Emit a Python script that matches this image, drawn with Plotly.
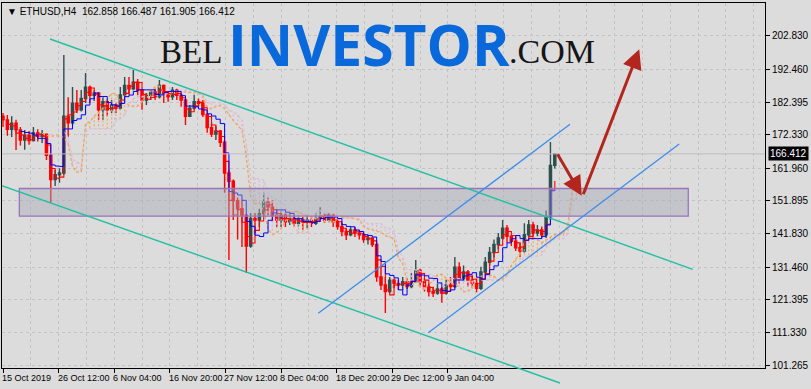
import plotly.graph_objects as go
import pandas as pd

# ---------------- data ----------------
title_text = "ETHUSD,H4  162.858 166.487 161.905 166.412"
bar_step = 5            # each drawn candle stands for 5 H4 bars
first_open = 178.0

closes = [176.9, 174.0, 175.9, 173.8, 170.7, 172.2, 170.5, 172.9, 171.8, 172.5,
          166.0, 158.5, 160.0, 160.5, 178.0, 176.0, 182.0, 180.0, 183.5, 187.0,
          184.5, 185.2, 180.0, 182.5, 180.0, 181.5, 180.5, 184.6, 187.5, 186.5,
          188.5, 186.0, 183.0, 184.5, 185.5, 184.0, 187.5, 185.0, 184.0, 186.0,
          184.5, 183.0, 178.0, 180.5, 182.5, 182.0, 178.5, 174.5, 172.5, 173.5,
          170.0, 160.5, 158.0, 152.0, 149.5, 147.5, 138.0, 146.5, 146.0, 148.0,
          151.5, 150.0, 147.5, 146.0, 147.5, 145.5, 146.5, 145.0, 146.2, 145.5,
          146.0, 145.0, 146.5, 147.0, 146.0, 147.5, 145.5, 144.0, 142.5, 141.5,
          143.0, 142.0, 141.5, 140.0, 140.5, 138.5, 128.5, 126.0, 124.0, 127.5,
          126.5, 126.0, 127.0, 125.5, 127.0, 130.5, 127.0, 125.5, 124.0, 123.5,
          124.8, 123.5, 126.0, 125.5, 131.5, 128.0, 130.0, 127.5, 126.5, 125.0,
          130.0, 133.0, 136.0, 138.5, 140.5, 143.5, 141.0, 139.5, 137.5, 136.5,
          141.5, 144.5, 142.0, 143.0, 141.5, 147.0, 162.858, 166.412]

highs = [179.0, 178.4, 178.0, 176.9, 174.7, 173.8, 173.5, 174.7, 174.0, 173.8,
         172.5, 166.5, 161.5, 162.0, 196.9, 183.9, 187.0, 186.1, 186.1, 191.3,
         187.5, 186.1, 185.5, 183.9, 183.0, 183.0, 182.1, 187.0, 190.1, 190.1,
         192.3, 189.5, 186.5, 185.2, 186.1, 186.5, 189.2, 187.8, 185.5, 187.0,
         186.5, 185.2, 183.5, 181.5, 184.6, 183.5, 183.0, 179.0, 175.9, 175.0,
         173.8, 170.5, 161.5, 158.5, 153.0, 152.2, 148.0, 148.2, 148.2, 149.5,
         154.4, 153.0, 152.2, 148.5, 149.0, 148.2, 148.2, 147.5, 147.5, 147.0,
         147.5, 147.0, 148.2, 150.0, 148.2, 148.2, 148.0, 146.0, 145.1, 143.5,
         144.0, 143.9, 143.0, 142.0, 141.5, 140.5, 139.0, 131.6, 128.5, 128.5,
         128.0, 127.6, 128.5, 128.0, 129.7, 133.7, 131.0, 128.0, 126.5, 125.5,
         126.5, 125.4, 127.6, 128.5, 134.6, 133.0, 132.0, 130.6, 129.0, 128.0,
         131.6, 134.6, 137.7, 140.0, 142.0, 146.0, 144.5, 141.5, 140.8, 139.0,
         145.0, 146.0, 145.5, 144.5, 144.0, 149.0, 170.1, 166.487]

lows = [174.7, 172.0, 171.6, 167.6, 169.0, 167.7, 169.2, 170.2, 170.2, 169.8,
        164.5, 151.3, 156.5, 157.5, 160.0, 171.6, 175.5, 179.0, 179.5, 182.1,
        182.1, 182.7, 176.9, 176.9, 178.0, 179.0, 179.0, 180.0, 184.5, 184.6,
        186.0, 184.5, 180.0, 181.5, 183.0, 183.0, 183.5, 182.1, 182.5, 183.0,
        183.0, 180.9, 175.3, 177.8, 180.0, 180.9, 177.8, 172.9, 171.6, 170.7,
        168.5, 154.4, 133.7, 146.0, 140.0, 137.7, 129.7, 137.5, 142.0, 143.9,
        147.0, 147.5, 145.5, 143.9, 143.9, 143.9, 144.5, 143.9, 144.0, 143.0,
        143.5, 143.9, 144.5, 145.5, 145.1, 145.5, 143.9, 143.0, 141.0, 139.9,
        141.0, 140.8, 140.0, 139.0, 138.5, 137.7, 127.0, 124.5, 117.4, 123.5,
        125.0, 124.5, 124.5, 124.8, 125.0, 127.0, 125.4, 124.0, 122.5, 122.3,
        123.0, 120.5, 123.0, 124.0, 125.0, 126.5, 127.0, 125.5, 125.0, 123.8,
        124.5, 129.0, 132.0, 134.5, 137.0, 140.0, 139.0, 138.0, 136.5, 134.6,
        136.0, 140.5, 140.0, 141.0, 140.5, 140.5, 146.0, 161.905]

x_tick_bars = [0, 64, 128, 192, 256, 320, 384, 448, 512]
x_tick_labels = ["15 Oct 2019", "26 Oct 12:00", "6 Nov 04:00", "16 Nov 20:00",
                 "27 Nov 12:00", "8 Dec 04:00", "18 Dec 20:00", "29 Dec 12:00",
                 "9 Jan 04:00"]
y_tick_vals = [101.265, 111.330, 121.395, 131.460, 141.830, 151.895,
               161.960, 172.330, 182.395, 192.460, 202.830]
y_tick_labels = ["101.265", "111.330", "121.395", "131.460", "141.830", "151.895",
                 "161.960", "172.330", "182.395", "192.460", "202.830"]
bid_price = 166.412
bid_label = "166.412"

# drawn objects (bar index, price)
teal_upper_bars = [54.1, 793.7]
teal_upper_prices = [201.81, 130.85]
teal_lower_bars = [-3.5, 641.0]
teal_lower_prices = [156.82, 95.81]
blue_upper_bars = [362.8, 652.5]
blue_upper_prices = [117.29, 175.53]
blue_lower_bars = [489.4, 778.2]
blue_lower_prices = [111.31, 169.46]
zone_bars = [18.8, 788.6]
zone_prices = [147.21, 155.75]
arrow1_tail = (637.2, 166.78)
arrow1_tip = (665.9, 153.53)
arrow2_tail = (667.1, 153.53)
arrow2_tip = (732.2, 198.64)

x_range = [-1.15, 876.9]
y_range = [100.43, 212.91]

# ---------------- derived ----------------
n = len(closes)
bars = [i * bar_step for i in range(n)]
opens = [first_open] + closes[:-1]
highs = [max(h, o, c) for h, o, c in zip(highs, opens, closes)]
lows = [min(l, o, c) for l, o, c in zip(lows, opens, closes)]

df = pd.DataFrame({"bar": bars, "o": opens, "h": highs, "l": lows, "c": closes})
tenkan = (df.h.rolling(2).max() + df.l.rolling(2).min()) / 2
kijun = (df.h.rolling(5).max() + df.l.rolling(5).min()) / 2
span_a = (tenkan + kijun) / 2
span_b = (df.h.rolling(10).max() + df.l.rolling(10).min()) / 2
shift = 5
span_bars = [b + shift * bar_step for b in bars]

# hatch segments of the cloud (as the terminal draws it)
up_x, up_y, dn_x, dn_y = [], [], [], []
for b, a, s in zip(span_bars, span_a, span_b):
    if pd.isna(a) or pd.isna(s):
        continue
    if a >= s:
        up_x += [b, b, None]
        up_y += [a, s, None]
    else:
        dn_x += [b, b, None]
        dn_y += [a, s, None]

FONT = "Liberation Sans, Arial, sans-serif"
BG = "#DCDCDC"
GRID = "#C3C3C3"


def paper_y(price):
    return (price - y_range[0]) / (y_range[1] - y_range[0])


fig = go.Figure()

# Ichimoku cloud
fig.add_trace(go.Scatter(x=up_x, y=up_y, mode="lines",
                         line=dict(color="rgba(244,164,96,0.9)", width=1.2, dash="2px,2px"),
                         hoverinfo="skip", showlegend=False))
fig.add_trace(go.Scatter(x=dn_x, y=dn_y, mode="lines",
                         line=dict(color="rgba(214,186,214,1)", width=1.2, dash="2px,2px"),
                         hoverinfo="skip", showlegend=False))
fig.add_trace(go.Scatter(x=span_bars, y=span_b, mode="lines",
                         line=dict(color="#D8BFD8", width=1.3, dash="3px,2px"),
                         hoverinfo="skip", showlegend=False))
fig.add_trace(go.Scatter(x=span_bars, y=span_a, mode="lines",
                         line=dict(color="#F4A460", width=1.3, dash="3px,2px"),
                         hoverinfo="skip", showlegend=False))

fig.add_trace(go.Candlestick(
    x=bars, open=opens, high=highs, low=lows, close=closes,
    increasing=dict(line=dict(color="#2F4F4F", width=1.4), fillcolor="#2F4F4F"),
    decreasing=dict(line=dict(color="#FF0000", width=1.4), fillcolor="#FF0000"),
    whiskerwidth=0, showlegend=False, hoverinfo="skip"))

fig.add_trace(go.Scatter(x=bars, y=tenkan, mode="lines", line_shape="hv",
                         line=dict(color="#FF0000", width=1.1),
                         hoverinfo="skip", showlegend=False))
fig.add_trace(go.Scatter(x=bars, y=kijun, mode="lines", line_shape="hv",
                         line=dict(color="#0000FF", width=1.0),
                         hoverinfo="skip", showlegend=False))

shapes = []
# bid line
shapes.append(dict(type="line", xref="paper", yref="y", x0=0, x1=1,
                   y0=bid_price, y1=bid_price, line=dict(color="#BEBEBE", width=1)))
# zone
shapes.append(dict(type="rect", xref="x", yref="y",
                   x0=zone_bars[0], x1=zone_bars[1], y0=zone_prices[0], y1=zone_prices[1],
                   fillcolor="rgba(165,168,180,0.45)",
                   line=dict(color="#9A74B8", width=1.3), layer="above"))
# channel lines
shapes.append(dict(type="line", xref="x", yref="y",
                   x0=teal_upper_bars[0], x1=teal_upper_bars[1],
                   y0=teal_upper_prices[0], y1=teal_upper_prices[1],
                   line=dict(color="#22BFA3", width=1.4)))
shapes.append(dict(type="line", xref="x", yref="paper",
                   x0=teal_lower_bars[0], x1=teal_lower_bars[1],
                   y0=paper_y(teal_lower_prices[0]), y1=paper_y(teal_lower_prices[1]),
                   line=dict(color="#22BFA3", width=1.4)))
shapes.append(dict(type="line", xref="x", yref="y",
                   x0=blue_upper_bars[0], x1=blue_upper_bars[1],
                   y0=blue_upper_prices[0], y1=blue_upper_prices[1],
                   line=dict(color="#3C8CEE", width=1.3)))
shapes.append(dict(type="line", xref="x", yref="y",
                   x0=blue_lower_bars[0], x1=blue_lower_bars[1],
                   y0=blue_lower_prices[0], y1=blue_lower_prices[1],
                   line=dict(color="#3C8CEE", width=1.3)))

annotations = []
for tip, tail in [(arrow1_tip, arrow1_tail), (arrow2_tip, arrow2_tail)]:
    annotations.append(dict(x=tip[0], y=tip[1], ax=tail[0], ay=tail[1],
                            xref="x", yref="y", axref="x", ayref="y",
                            text="", showarrow=True, arrowhead=2, arrowsize=1.3,
                            arrowwidth=3, arrowcolor="#B3261E", standoff=0))

# x tick labels (left aligned at the tick, like the terminal)
for b, lab in zip(x_tick_bars, x_tick_labels):
    annotations.append(dict(x=b, y=-0.028, xref="x", yref="paper", text=lab,
                            showarrow=False, xanchor="left", yanchor="middle",
                            xshift=-2, borderpad=0,
                            font=dict(family=FONT, size=9, color="#000000")))

# bid label on the price scale
annotations.append(dict(x=1, y=bid_price, xref="paper", yref="y", text=bid_label,
                        showarrow=False, xanchor="left", yanchor="middle", xshift=3,
                        bgcolor="#000000", borderpad=1,
                        font=dict(family=FONT, size=10, color="#FFFFFF")))

# header
annotations.append(dict(x=0.004, y=0.997, xref="paper", yref="paper",
                        text="\u25BC " + title_text, showarrow=False,
                        xanchor="left", yanchor="top",
                        font=dict(family=FONT, size=10, color="#000000")))

# watermark
annotations.append(dict(x=0.2905, y=0.866, xref="paper", yref="paper", text="BEL",
                        showarrow=False, xanchor="right", yanchor="middle",
                        font=dict(family="Liberation Serif, serif", size=33, color="#151515")))
annotations.append(dict(x=0.4805, y=0.888, xref="paper", yref="paper", text="<b>INVESTOR</b>",
                        showarrow=False, xanchor="center", yanchor="middle",
                        font=dict(family="Open Sans, sans-serif", size=57, color="#0A69DA")))
annotations.append(dict(x=0.662, y=0.866, xref="paper", yref="paper", text=".COM",
                        showarrow=False, xanchor="left", yanchor="middle",
                        font=dict(family="Liberation Serif, serif", size=34, color="#151515")))

fig.update_layout(
    width=811, height=389,
    margin=dict(l=2, r=46, t=3, b=21),
    paper_bgcolor=BG, plot_bgcolor=BG,
    shapes=shapes, annotations=annotations,
    showlegend=False,
    xaxis=dict(range=x_range, rangeslider=dict(visible=False),
               tickmode="array", tickvals=x_tick_bars, showticklabels=False,
               ticks="outside", ticklen=4, tickcolor="#000000",
               showgrid=False, zeroline=False,
               minor=dict(tickmode="linear", tick0=0, dtick=32, showgrid=True,
                          gridcolor=GRID, griddash="3px,3px", gridwidth=1, ticks=""),
               showline=True, linecolor="#000000", linewidth=1, mirror=True,
               fixedrange=True),
    yaxis=dict(range=y_range, side="right",
               tickmode="array", tickvals=y_tick_vals, ticktext=y_tick_labels,
               ticks="outside", ticklen=4, tickcolor="#000000",
               tickfont=dict(family=FONT, size=10, color="#000000"),
               showgrid=True, gridcolor=GRID, griddash="3px,3px", gridwidth=1,
               zeroline=False, showline=True, linecolor="#000000", linewidth=1,
               mirror=True, fixedrange=True),
)

fig.write_html("out.html")
